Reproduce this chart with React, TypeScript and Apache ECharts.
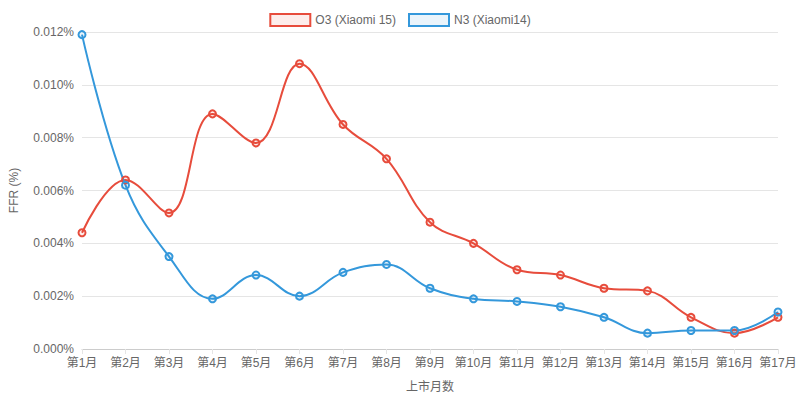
import React, { useEffect, useRef } from "react";
import * as echarts from "echarts";

const categories = ["第1月","第2月","第3月","第4月","第5月","第6月","第7月","第8月","第9月","第10月","第11月","第12月","第13月","第14月","第15月","第16月","第17月"];
const o3Values = [0.0044,0.0064,0.00515,0.0089,0.0078,0.0108,0.0085,0.0072,0.0048,0.0040,0.0030,0.0028,0.0023,0.0022,0.0012,0.0006,0.0012];
const n3Values = [0.0119,0.0062,0.0035,0.0019,0.0028,0.0020,0.0029,0.0032,0.0023,0.0019,0.0018,0.0016,0.0012,0.0006,0.0007,0.0007,0.0014];

const font = "'Helvetica Neue', Helvetica, Arial, 'Liberation Sans', 'Noto Sans CJK SC', sans-serif";

export default function App() {
  const ref = useRef<HTMLDivElement>(null);
  useEffect(() => {
    const chart = echarts.init(ref.current!, null, { renderer: "svg" });
    const mk = (name: string, data: number[], color: string, fill: string) => ({
      name, type: "line", data, smooth: 0.4, symbol: "circle", symbolSize: 7,
      lineStyle: { color, width: 2 },
      itemStyle: { color: fill, borderColor: color, borderWidth: 2 },
    });
    chart.setOption({
      animation: false,
      textStyle: { fontFamily: font },
      legend: {
        top: 8, itemWidth: 40, itemHeight: 12, icon: "rect", itemGap: 12,
        textStyle: { color: "#666", fontSize: 12, fontFamily: font },
        data: [
          { name: "O3 (Xiaomi 15)", itemStyle: { color: "rgba(231,76,60,0.1)", borderColor: "#e74c3c", borderWidth: 2 } },
          { name: "N3 (Xiaomi14)", itemStyle: { color: "rgba(52,152,219,0.1)", borderColor: "#3498db", borderWidth: 2 } },
        ],
      },
      grid: { left: 77, right: 22, top: 32, bottom: 52 },
      xAxis: {
        type: "category", data: categories, boundaryGap: false,
        name: "上市月数", nameLocation: "middle", nameGap: 32,
        nameTextStyle: { color: "#666", fontSize: 12 },
        axisLine: { lineStyle: { color: "#ccc" } },
        axisTick: { show: true, lineStyle: { color: "#e5e5e5" } },
        axisLabel: { color: "#666", fontSize: 12, interval: 0 },
        splitLine: { show: false },
      },
      yAxis: {
        type: "value", min: 0, max: 0.012, interval: 0.002,
        name: "FFR (%)", nameLocation: "middle", nameGap: 62, nameRotate: 90,
        nameTextStyle: { color: "#666", fontSize: 12 },
        axisLine: { show: false }, axisTick: { show: false },
        axisLabel: { color: "#666", fontSize: 12, formatter: (v: number) => v.toFixed(3) + "%" },
        splitLine: { lineStyle: { color: "#e5e5e5" } },
      },
      series: [
        mk("O3 (Xiaomi 15)", o3Values, "#e74c3c", "rgba(231,76,60,0.1)"),
        mk("N3 (Xiaomi14)", n3Values, "#3498db", "rgba(52,152,219,0.1)"),
      ],
    });
    return () => chart.dispose();
  }, []);
  return <div ref={ref} style={{ position: "fixed", left: 0, top: 0, width: 800, height: 401, background: "#fff" }} />;
}
